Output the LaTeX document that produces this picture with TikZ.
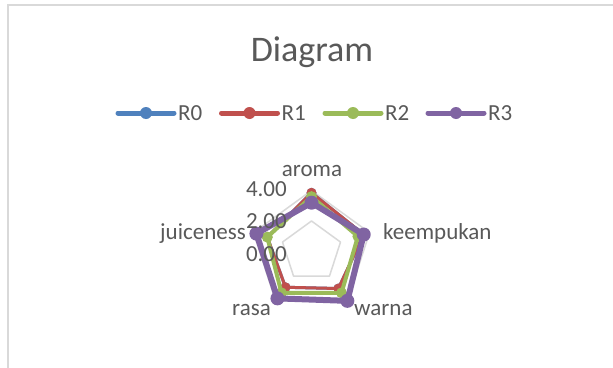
\documentclass[tikz,border=0pt]{standalone}
\usepackage{fontspec}
\setmainfont{Carlito}
\usepackage{xcolor}

\definecolor{seriesblue}{HTML}{4F81BD}
\definecolor{seriesred}{HTML}{C0504D}
\definecolor{seriesgreen}{HTML}{9BBB59}
\definecolor{seriespurple}{HTML}{8064A2}
\definecolor{textgrey}{HTML}{595959}
\definecolor{gridgrey}{HTML}{D9D9D9}

\tikzset{
  chart text/.style={text=textgrey, inner sep=0pt, font=\fontsize{23}{23}\selectfont},
  title text/.style={text=textgrey, inner sep=0pt, font=\fontsize{36}{36}\selectfont},
  legend line/.style={line width=5pt, line cap=round},
  grid line/.style={gridgrey, line width=1.5pt, line join=round},
  series line/.style={line width=#1, line join=round}
}

\begin{document}
\begin{tikzpicture}[x=1pt,y=-1pt]
            \useasboundingbox (0,0) rectangle (613,367);
            \fill[white] (0,0) rectangle (613,367);

            % Chart frame
            \draw[gridgrey, line width=2pt] (8,370) -- (8,5) -- (616,5);

            % Title
            \node[title text, anchor=base] (title) at (312,61) {Diagram};

            % Legend
            \foreach \x/\col/\nm in {118/seriesblue/R0, 221.5/seriesred/R1, 325/seriesgreen/R2, 428/seriespurple/R3} {
                \draw[legend line, \col] (\x,113) -- ++(56,0);
                \fill[\col] (\x+28,113) circle (6pt);
                \node[chart text, anchor=base west] (leg-\nm) at (\x+60,120.5) {\nm};
            }

            \begin{scope}[shift={(311.5,251.5)}]
                \def\u{15.25pt}

                % Grid pentagons (2.00 and 4.00)
                \draw[grid line] (90:2*\u) -- (18:2*\u) -- (-54:2*\u) -- (-126:2*\u) -- (162:2*\u) -- cycle;
                \draw[grid line] (90:4*\u) -- (18:4*\u) -- (-54:4*\u) -- (-126:4*\u) -- (162:4*\u) -- cycle;

                % R0 series
                \foreach \a/\v [count=\i] in {90/3.85,18/3.6,-54/3.0,-126/2.9,162/3.05}
                    \coordinate (r0-\i) at (\a:\v*\u);
                \draw[series line=3pt, seriesblue] (r0-1) -- (r0-2) -- (r0-3) -- (r0-4) -- (r0-5) -- cycle;
                \foreach \i in {1,...,5} \fill[seriesblue] (r0-\i) circle (5pt);

                % R1 series
                \foreach \a/\v [count=\i] in {90/3.85,18/3.6,-54/3.0,-126/2.9,162/3.05}
                    \coordinate (r1-\i) at (\a:\v*\u);
                \draw[series line=3pt, seriesred] (r1-1) -- (r1-2) -- (r1-3) -- (r1-4) -- (r1-5) -- cycle;
                \foreach \i in {1,...,5} \fill[seriesred] (r1-\i) circle (5pt);

                % R2 series
                \foreach \a/\v [count=\i] in {90/3.6,18/3.2,-54/3.35,-126/3.35,162/3.05}
                    \coordinate (r2-\i) at (\a:\v*\u);
                \draw[series line=4pt, seriesgreen] (r2-1) -- (r2-2) -- (r2-3) -- (r2-4) -- (r2-5) -- cycle;
                \foreach \i in {1,...,5} \fill[seriesgreen] (r2-\i) circle (5.5pt);

                % R3 series
                \foreach \a/\v [count=\i] in {90/3.2,18/3.6,-54/4.0,-126/3.8,162/3.8}
                    \coordinate (r3-\i) at (\a:\v*\u);
                \draw[series line=6pt, seriespurple] (r3-1) -- (r3-2) -- (r3-3) -- (r3-4) -- (r3-5) -- cycle;
                \foreach \i in {1,...,5} \fill[seriespurple] (r3-\i) circle (7pt);
            \end{scope}

            % Value axis labels
            \node[chart text, anchor=base east] (tick-4) at (287,196) {4.00};
            \node[chart text, anchor=base east] (tick-2) at (287,228.5) {2.00};
            \node[chart text, anchor=base east] (tick-0) at (287,261) {0.00};

            % Category labels
            \node[chart text, anchor=base] (lab-aroma) at (312,176) {aroma};
            \node[chart text, anchor=base west] (lab-keempukan) at (383,239) {keempukan};
            \node[chart text, anchor=base west] (lab-warna) at (354,315.5) {warna};
            \node[chart text, anchor=base east] (lab-rasa) at (271,315.5) {rasa};
            \node[chart text, anchor=base east] (lab-juiceness) at (246,239) {juiceness};
        \end{tikzpicture}
\end{document}
